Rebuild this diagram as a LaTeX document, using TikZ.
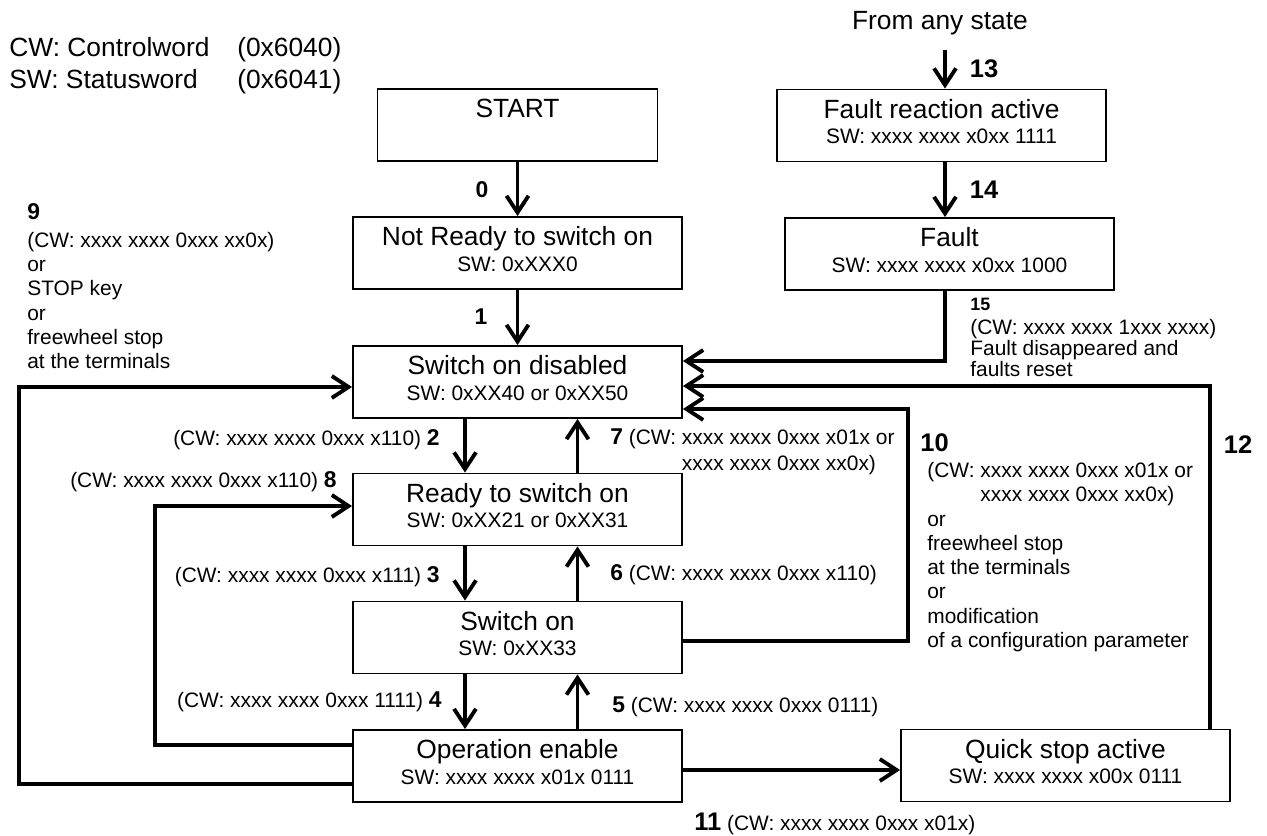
\documentclass[tikz,border=0pt]{standalone}
\usepackage{fontspec}
\setmainfont{Liberation Sans}
\usepackage{tikz}
\usetikzlibrary{arrows.meta}
\newcommand{\boxfont}{\fontsize{15}{14.7}\selectfont}
\newcommand{\swfont}{\fontsize{11.9}{14.7}\selectfont}
\newcommand{\cwfont}{\fontsize{11.9}{13.8}\selectfont}
\newcommand{\sw}[1]{{\swfont\rule[-4.7pt]{0pt}{0pt}#1}}
\newcommand{\nr}[1]{{\fontsize{13}{14}\selectfont\bfseries #1}}
\newcommand{\nrr}[1]{{\fontsize{14.5}{16}\selectfont\bfseries #1}}
\tikzset{
    state/.style={rectangle, draw, line width=1.1pt, minimum width=6.58cm,
    	minimum height=1.44cm, inner sep=0pt, align=center, font=\boxfont}
}
\tikzset{
    cw/.style={inner sep=0pt, font=\cwfont}
}
\tikzset{
    conn/.style={line width=2.2pt, -{Straight Barb[length=9.5pt, width=12.5pt]}}
}

\begin{document}
\begin{tikzpicture}
	\useasboundingbox (0,0) rectangle (25.34cm,-16.72cm);

	\node (start) [state, minimum width=5.6cm] at (10.35cm, -2.50cm) {START\\\sw{}};
	\node (notready) [state] at (10.35cm, -5.06cm) {Not Ready to switch on\\\sw{SW: 0xXXX0}};
	\node (disabled) [state] at (10.35cm, -7.64cm) {Switch on disabled\\\sw{SW: 0xXX40 or 0xXX50}};
	\node (ready) [state] at (10.35cm, -10.19cm) {Ready to switch on\\\sw{SW: 0xXX21 or 0xXX31}};
	\node (switchon) [state] at (10.35cm, -12.75cm) {Switch on\\\sw{SW: 0xXX33}};
	\node (enable) [state] at (10.35cm, -15.32cm) {Operation enable\\\sw{SW: xxxx xxxx x01x 0111}};
	\node (quickstop) [state] at (21.31cm, -15.31cm) {Quick stop active\\\sw{SW: xxxx xxxx x00x 0111}};
	\node (reaction) [state] at (18.83cm, -2.51cm) {Fault reaction active\\\sw{SW: xxxx xxxx x0xx 1111}};
	\node (fault) [state] at (18.99cm, -5.08cm) {Fault\\\sw{SW: xxxx xxxx x0xx 1000}};
	\coordinate (anystate) at (18.90cm, -1.00cm);

	\node (head) [cw, anchor=base west, font=\fontsize{15}{18.1}\selectfont] at (0.18cm, -1.13cm)
		{\begin{tabular}[t]{@{}p{4.56cm}@{}l@{}}CW: Controlword & (0x6040)\\SW: Statusword & (0x6041)\end{tabular}};
	\node (anytxt) [cw, anchor=base, font=\fontsize{15}{18}\selectfont] at (18.80cm, -0.59cm) {From any state};

	\node (n0) [cw, anchor=base] at (9.64cm, -3.96cm) {\nr{0}};
	\node (n1) [cw, anchor=base] at (9.62cm, -6.50cm) {\nr{1}};
	\node (n13) [cw, anchor=base] at (19.68cm, -1.56cm) {\nrr{13}};
	\node (n14) [cw, anchor=base] at (19.68cm, -3.98cm) {\nrr{14}};
	\node (n12) [cw, anchor=base] at (24.76cm, -9.08cm) {\nrr{12}};
	\node (n10) [cw, anchor=base west] at (18.40cm, -9.04cm) {\nrr{10}};
	\node (n9) [cw, anchor=base west] at (0.54cm, -4.40cm) {\nr{9}};
	\node (n15) [cw, anchor=base west] at (19.40cm, -6.21cm) {{\fontsize{10.2}{12}\selectfont\bfseries 15}};

	\node (t2) [cw, anchor=base east] at (8.80cm, -8.91cm) {(CW: xxxx xxxx 0xxx x110) \nr{2}};
	\node (t8) [cw, anchor=base east] at (6.74cm, -9.75cm) {(CW: xxxx xxxx 0xxx x110) \nr{8}};
	\node (t3) [cw, anchor=base east] at (8.80cm, -11.65cm) {(CW: xxxx xxxx 0xxx x111) \nr{3}};
	\node (t4) [cw, anchor=base east] at (8.84cm, -14.15cm) {(CW: xxxx xxxx 0xxx 1111) \nr{4}};
	\node (t6) [cw, anchor=base west] at (12.20cm, -11.61cm) {\nr{6} (CW: xxxx xxxx 0xxx x110)};
	\node (t5) [cw, anchor=base west] at (12.24cm, -14.25cm) {\nr{5} (CW: xxxx xxxx 0xxx 0111)};
	\node (t11) [cw, anchor=base west] at (13.88cm, -16.61cm) {\nrr{11} (CW: xxxx xxxx 0xxx x01x)};
	\node (t7) [cw, anchor=base west, font=\fontsize{11.9}{14.7}\selectfont] at (12.20cm, -8.89cm)
		{\begin{tabular}[t]{@{}l@{}}\nr{7} (CW: xxxx xxxx 0xxx x01x or\\\phantom{\nr{7} (CW:\ }xxxx xxxx 0xxx xx0x)\end{tabular}};
	\node (t10) [cw, anchor=base west] at (18.54cm, -9.55cm)
		{\begin{tabular}[t]{@{}l@{}}(CW: xxxx xxxx 0xxx x01x or\\\phantom{(CW:\ }xxxx xxxx 0xxx xx0x)\\or\\freewheel stop\\at the terminals\\or\\modification\\of a configuration parameter\end{tabular}};
	\node (t9) [cw, anchor=base west] at (0.54cm, -4.95cm)
		{\begin{tabular}[t]{@{}l@{}}(CW: xxxx xxxx 0xxx xx0x)\\or\\STOP key\\or\\freewheel stop\\at the terminals\end{tabular}};
	\node (t15) [cw, anchor=base west, font=\fontsize{11.9}{11.3}\selectfont] at (19.40cm, -6.69cm)
		{\begin{tabular}[t]{@{}l@{}}(CW: xxxx xxxx 1xxx xxxx)\\Fault disappeared and\\faults reset\end{tabular}};

	\draw[conn] (start) -- (notready);
	\draw[conn] (notready) -- (disabled);
	\draw[conn] ([xshift=-1.05cm]disabled.south) -- ([xshift=-1.05cm]ready.north);
	\draw[conn] ([xshift=1.2cm]ready.north) -- ([xshift=1.2cm]disabled.south);
	\draw[conn] ([xshift=-1.05cm]ready.south) -- ([xshift=-1.05cm]switchon.north);
	\draw[conn] ([xshift=1.2cm]switchon.north) -- ([xshift=1.2cm]ready.south);
	\draw[conn] ([xshift=-1.05cm]switchon.south) -- ([xshift=-1.05cm]enable.north);
	\draw[conn] ([xshift=1.2cm]enable.north) -- ([xshift=1.2cm]switchon.south);
	\draw[conn] ([yshift=-0.08cm]enable.east) -- ([yshift=-0.08cm]enable.east -| quickstop.west);
	\draw[conn] ([yshift=-0.36cm]enable.west) -| (0.38cm, -7.74cm) -- ([yshift=-0.10cm]disabled.west);
	\draw[conn] ([yshift=0.42cm]enable.west) -| (3.10cm, -10.12cm) -- ([yshift=0.07cm]ready.west);
	\draw[conn] ([yshift=-0.07cm]switchon.east) -| (18.16cm, -8.18cm) -- ([yshift=-0.54cm]disabled.east);
	\draw[conn] ([xshift=2.89cm]quickstop.north) |- ([yshift=-0.08cm]disabled.east);
	\draw[conn] ([xshift=-0.09cm]fault.south) |- ([yshift=0.42cm]disabled.east);
	\draw[conn] (anystate) -- (anystate |- reaction.north);
	\draw[conn] (anystate |- reaction.south) -- (anystate |- fault.north);
\end{tikzpicture}
\end{document}
